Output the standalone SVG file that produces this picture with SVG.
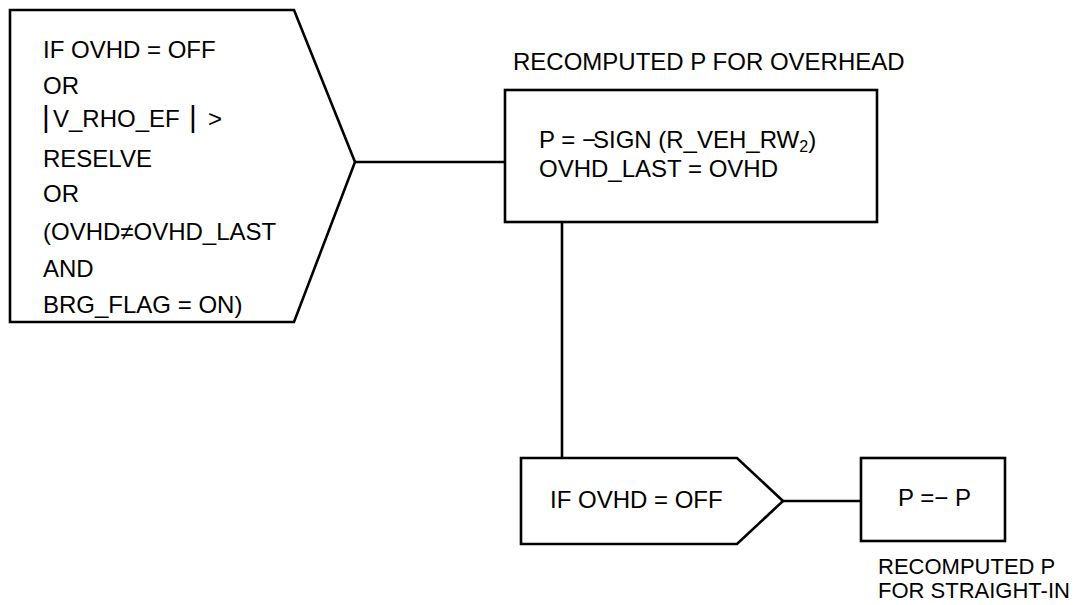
<svg xmlns="http://www.w3.org/2000/svg" width="1087" height="605" viewBox="0 0 1087 605">
<style>
.shape{fill:#fff;stroke:#000;stroke-width:2.6;stroke-linejoin:miter}
.conn{stroke:#000;stroke-width:2.6;fill:none}
text{font-family:"Liberation Sans",Arial,sans-serif;font-size:24px;fill:#000}
.sm{font-size:22px}
</style>
<rect width="1087" height="605" fill="#fff"/>
<g id="connectors">
<line class="conn" x1="355" y1="162" x2="505" y2="162"/>
<line class="conn" x1="562" y1="222" x2="562" y2="458"/>
<line class="conn" x1="783" y1="501" x2="861" y2="501"/>
</g>
<g id="cond1">
<polygon class="shape" points="10,10 294,10 355,162 294,322 10,322"/>
<text x="43" y="58">IF OVHD = OFF</text>
<text x="43" y="94">OR</text>
<text y="127"><tspan x="42" font-size="30">|</tspan><tspan x="53">V_RHO_EF</tspan><tspan x="189" font-size="30">|</tspan><tspan x="208">&gt;</tspan></text>
<text x="43" y="167">RESELVE</text>
<text x="43" y="202">OR</text>
<text x="43" y="240">(OVHD≠OVHD_LAST</text>
<text x="43" y="277">AND</text>
<text x="43" y="313">BRG_FLAG = ON)</text>
</g>
<g id="overhead">
<text x="513" y="70">RECOMPUTED P FOR OVERHEAD</text>
<rect class="shape" x="505" y="90" width="372" height="132"/>
<text x="539" y="148">P = −<tspan dx="-3">SIGN (R_VEH_RW</tspan><tspan font-size="16" dy="4">2</tspan><tspan dy="-4">)</tspan></text>
<text x="539" y="177">OVHD_LAST = OVHD</text>
</g>
<g id="cond2">
<polygon class="shape" points="521,458 737,458 783,501 737,544 521,544"/>
<text x="550" y="508">IF OVHD = OFF</text>
</g>
<g id="straight">
<rect class="shape" x="861" y="458" width="144" height="83"/>
<text x="898" y="506">P =− P</text>
<text class="sm" x="878" y="574">RECOMPUTED P</text>
<text class="sm" x="878" y="598">FOR STRAIGHT-IN</text>
</g>
</svg>
